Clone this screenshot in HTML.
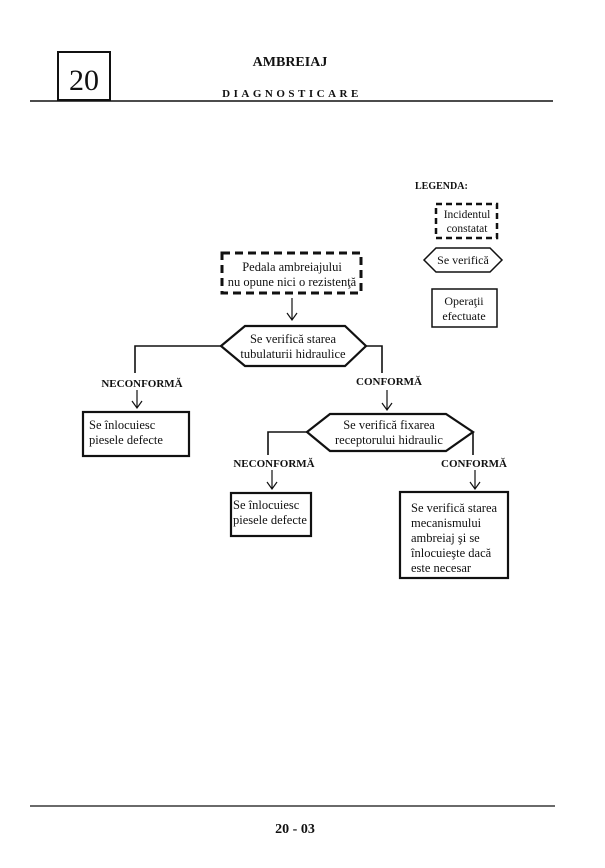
<!DOCTYPE html>
<html><head><meta charset="utf-8"><style>
html,body{margin:0;padding:0;background:#fff;}
svg{display:block;}
text{font-family:"Liberation Serif",serif;fill:#111;}
</style></head><body>
<svg width="605" height="868" viewBox="0 0 605 868" xmlns="http://www.w3.org/2000/svg">
<g stroke="#111" fill="none">
<rect x="58" y="52" width="52" height="48" stroke-width="2"/>
<line x1="30" y1="101" x2="553" y2="101" stroke-width="1.5"/>
<line x1="30" y1="806" x2="555" y2="806" stroke-width="1.2"/>
<rect x="436" y="204" width="61" height="34" stroke-width="2.5" stroke-dasharray="6,4"/>
<polygon points="424,260 436,248 490,248 502,260 490,272 436,272" stroke-width="1.5"/>
<rect x="432" y="289" width="65" height="38" stroke-width="1.5"/>
<rect x="222" y="253" width="139" height="40" stroke-width="3" stroke-dasharray="8,5"/>
<polygon points="221,346 245,326 345,326 366,346 345,366 245,366" stroke-width="2.2"/>
<polyline points="221,346 135,346 135,373" stroke-width="1.6"/>
<polyline points="366,346 382,346 382,373" stroke-width="1.6"/>
<rect x="83" y="412" width="106" height="44" stroke-width="2.2"/>
<polygon points="307,432 330,414 446,414 473,432 446,451 330,451" stroke-width="2.2"/>
<polyline points="307,432 268,432 268,455" stroke-width="1.6"/>
<polyline points="473,432 473,455" stroke-width="1.6"/>
<rect x="231" y="493" width="80" height="43" stroke-width="2.2"/>
<rect x="400" y="492" width="108" height="86" stroke-width="2.2"/>
<g stroke-width="1.2">
<path d="M292 298 V320 M287 313 L292 320 L297 313"/>
<path d="M137 390 V408 M132 401 L137 408 L142 401"/>
<path d="M387 390 V410 M382 403 L387 410 L392 403"/>
<path d="M272 470 V489 M267 482 L272 489 L277 482"/>
<path d="M475 470 V489 M470 482 L475 489 L480 482"/>
</g>
</g>
<text x="84" y="90" font-size="30" text-anchor="middle">20</text>
<text x="290" y="66" font-size="14" font-weight="bold" text-anchor="middle">AMBREIAJ</text>
<text x="292" y="97" font-size="11" font-weight="bold" text-anchor="middle" letter-spacing="3.5">DIAGNOSTICARE</text>
<text x="415" y="189" font-size="10" font-weight="bold">LEGENDA:</text>
<text x="467" y="218" font-size="11.5" text-anchor="middle">Incidentul</text>
<text x="467" y="232" font-size="11.5" text-anchor="middle">constatat</text>
<text x="463" y="264" font-size="12" text-anchor="middle">Se verifică</text>
<text x="464" y="305" font-size="12" text-anchor="middle">Operaţii</text>
<text x="464" y="320" font-size="12" text-anchor="middle">efectuate</text>
<text x="292" y="271" font-size="12.5" text-anchor="middle">Pedala ambreiajului</text>
<text x="292" y="286" font-size="12.5" text-anchor="middle">nu opune nici o rezistenţă</text>
<text x="293" y="343" font-size="12.5" text-anchor="middle">Se verifică starea</text>
<text x="293" y="358" font-size="12.5" text-anchor="middle">tubulaturii hidraulice</text>
<text x="142" y="387" font-size="11" font-weight="bold" text-anchor="middle">NECONFORMĂ</text>
<text x="389" y="385" font-size="11" font-weight="bold" text-anchor="middle">CONFORMĂ</text>
<text x="89" y="429" font-size="12.5">Se înlocuiesc</text>
<text x="89" y="444" font-size="12.5">piesele defecte</text>
<text x="389" y="429" font-size="12.5" text-anchor="middle">Se verifică fixarea</text>
<text x="389" y="444" font-size="12.5" text-anchor="middle">receptorului hidraulic</text>
<text x="274" y="467" font-size="11" font-weight="bold" text-anchor="middle">NECONFORMĂ</text>
<text x="474" y="467" font-size="11" font-weight="bold" text-anchor="middle">CONFORMĂ</text>
<text x="233" y="509" font-size="12.5">Se înlocuiesc</text>
<text x="233" y="524" font-size="12.5">piesele defecte</text>
<text x="411" y="512" font-size="12.5">Se verifică starea</text>
<text x="411" y="527" font-size="12.5">mecanismului</text>
<text x="411" y="542" font-size="12.5">ambreiaj şi se</text>
<text x="411" y="557" font-size="12.5">înlocuieşte dacă</text>
<text x="411" y="572" font-size="12.5">este necesar</text>
<text x="295" y="833" font-size="14" font-weight="bold" text-anchor="middle">20 - 03</text>
</svg>
</body></html>
